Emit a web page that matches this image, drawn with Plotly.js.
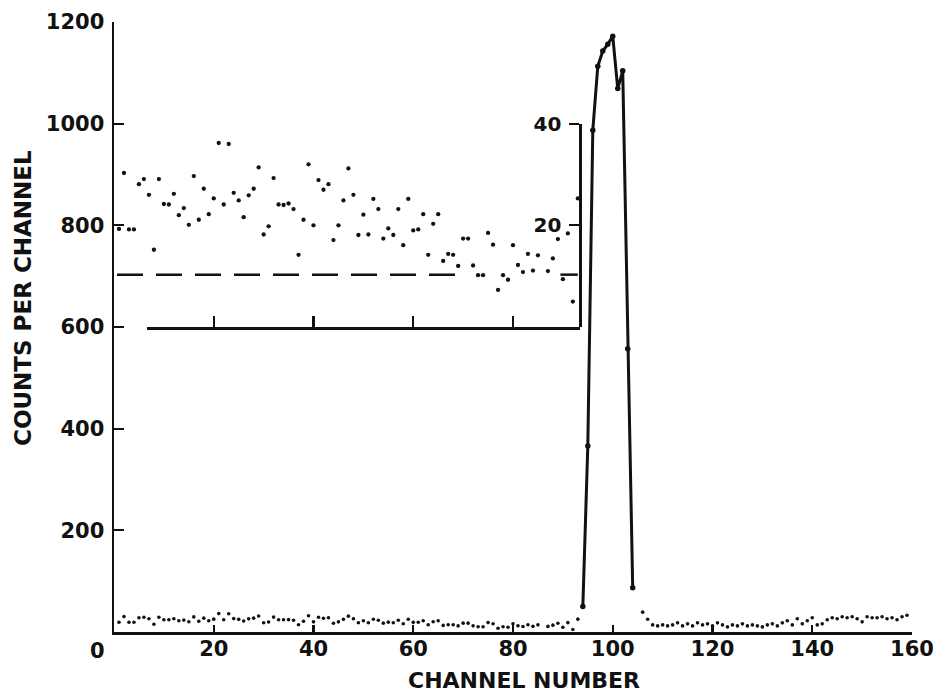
<!DOCTYPE html>
<html>
<head>
<meta charset="utf-8">
<script src="https://cdn.plot.ly/plotly-3.0.1.min.js"></script>
<style>
html,body{margin:0;padding:0;background:#ffffff;}
#chart{width:933px;height:694px;}
</style>
</head>
<body>
<div id="chart"></div>
<script>
// ---- Data ----
// Background region left of the peak (shown both at full scale and in the inset)
const bgChannelsLow = [
  1,2,3,4,5,6,7,8,9,10,
  11,12,13,14,15,16,17,18,19,20,
  21,22,23,24,25,26,27,28,29,30,
  31,32,33,34,35,36,37,38,39,40,
  41,42,43,44,45,46,47,48,49,50,
  51,52,53,54,55,56,57,58,59,60,
  61,62,63,64,65,66,67,68,69,70,
  71,72,73,74,75,76,77,78,79,80,
  81,82,83,84,85,87,88,89,90,91,
  92,93
];
const bgCountsLow = [
  19.3,30.3,19.2,19.2,28.1,29.1,26.0,15.2,29.1,24.2,
  24.1,26.2,22.0,23.4,20.1,29.7,21.1,27.2,22.2,25.3,
  36.2,24.1,36.0,26.4,24.9,21.6,25.9,27.2,31.4,18.2,
  19.8,29.3,24.1,24.0,24.3,23.2,14.2,21.1,32.0,20.0,
  28.9,27.0,28.1,17.1,20.0,24.9,31.2,26.0,18.1,22.1,
  18.2,25.2,23.2,17.4,19.4,18.1,23.2,16.1,25.2,19.0,
  19.2,22.2,14.2,20.3,22.2,13.0,14.4,14.2,12.0,17.4,
  17.4,12.1,10.2,10.2,18.5,16.2,7.3,10.2,9.3,16.1,
  12.2,10.8,14.4,11.1,14.1,11.0,13.5,17.3,9.4,18.4,
  5.0,25.3
];
// Peak
const peakChannels = [94,95,96,97,98,99,100,101,102,103,104];
const peakCounts   = [50,366,987,1113,1143,1156,1172,1069,1104,557,87];
// Background right of the peak
const bgChannelsHigh = [
  106,107,108,109,110,111,112,113,114,115,
  116,117,118,119,120,121,122,123,124,125,
  126,127,128,129,130,131,132,133,134,135,
  136,137,138,139,140,141,142,143,144,145,
  146,147,148,149,150,151,152,153,154,155,
  156,157,158,159
];
const bgCountsHigh = [
  39,25,14,12,14,12,14,18,12,16,
  12,18,14,16,12,18,14,10,14,12,
  16,12,14,12,10,14,16,12,18,22,
  14,26,16,22,28,14,16,24,28,26,
  30,28,30,26,20,30,28,28,30,26,
  28,24,30,33
];
// Dashed background level drawn in the inset
const insetBackgroundLevel = 10.3;
const dashedChannels = [0.6, 69.0, null, 89.5, 93.0];

// Ticks / ranges
const xTickVals = [20,40,60,80,100,120,140,160];
const yTickVals = [200,400,600,800,1000,1200];
const insetYTickVals = [20,40];
const insetXTickVals = [20,40,60,80];
const mainXRange = [0,160];
const mainYRange = [0,1200];
const insetCountRange = [0,40];
const insetMainSpan = [600,1000];
const insetChannelRange = [6.6,93.5];

// ---- Styling ----
const FONT = 'DejaVu Sans, Verdana, sans-serif';
const INK = '#111111';

const dashedY = dashedChannels.map(c => c === null ? null : insetBackgroundLevel);

const traces = [
  { // background (full scale), left
    x: bgChannelsLow, y: bgCountsLow, xaxis: 'x', yaxis: 'y',
    type: 'scatter', mode: 'markers', cliponaxis: false,
    marker: {size: 3.6, color: INK}, hoverinfo: 'x+y', showlegend: false
  },
  { // background (full scale), right
    x: bgChannelsHigh, y: bgCountsHigh, xaxis: 'x', yaxis: 'y',
    type: 'scatter', mode: 'markers', cliponaxis: false,
    marker: {size: 3.6, color: INK}, hoverinfo: 'x+y', showlegend: false
  },
  { // peak
    x: peakChannels, y: peakCounts, xaxis: 'x', yaxis: 'y',
    type: 'scatter', mode: 'lines+markers', cliponaxis: false,
    line: {color: INK, width: 3},
    marker: {size: 5.5, color: INK}, hoverinfo: 'x+y', showlegend: false
  },
  { // inset: expanded background
    x: bgChannelsLow, y: bgCountsLow, xaxis: 'x', yaxis: 'y2',
    type: 'scatter', mode: 'markers', cliponaxis: false,
    marker: {size: 4.3, color: INK}, hoverinfo: 'x+y', showlegend: false
  },
  { // inset: dashed background level
    x: dashedChannels, y: dashedY, xaxis: 'x', yaxis: 'y2',
    type: 'scatter', mode: 'lines', connectgaps: false,
    line: {color: INK, width: 2.5, dash: '26px,13px'},
    hoverinfo: 'skip', showlegend: false
  },
  { // inset frame axis holder (no marks)
    x: [], y: [], xaxis: 'x2', yaxis: 'y2',
    type: 'scatter', mode: 'markers', hoverinfo: 'skip', showlegend: false
  }
];

const tickFont = {family: FONT, size: 21, color: INK, weight: 'bold'};

const layout = {
  width: 933, height: 694, autosize: false,
  margin: {l: 114, r: 21, t: 22, b: 62, pad: 0},
  paper_bgcolor: '#ffffff', plot_bgcolor: 'rgba(0,0,0,0)',
  font: {family: FONT, color: INK},
  showlegend: false,
  xaxis: {
    range: mainXRange, domain: [0,1], anchor: 'y',
    showline: true, linecolor: INK, linewidth: 2.5,
    showgrid: false, zeroline: false,
    ticks: 'inside', ticklen: 7, tickwidth: 2.2, tickcolor: INK,
    tickmode: 'array', tickvals: xTickVals,
    tickfont: tickFont, ticklabelstandoff: -4, ticklabeloverflow: 'allow'
  },
  yaxis: {
    range: mainYRange, domain: [0,1], anchor: 'x',
    showline: true, linecolor: INK, linewidth: 2.5,
    showgrid: false, zeroline: false,
    ticks: 'inside', ticklen: 10, tickwidth: 2.2, tickcolor: INK,
    tickmode: 'array', tickvals: yTickVals,
    tickfont: tickFont, ticklabelstandoff: 3
  },
  yaxis2: {
    range: insetCountRange,
    domain: [insetMainSpan[0]/mainYRange[1], insetMainSpan[1]/mainYRange[1]],
    anchor: 'free', position: insetChannelRange[1]/mainXRange[1], side: 'left',
    showline: true, linecolor: INK, linewidth: 2.5,
    showgrid: false, zeroline: false,
    ticks: 'outside', ticklen: 10, tickwidth: 2.2, tickcolor: INK,
    tickmode: 'array', tickvals: insetYTickVals,
    tickfont: {family: FONT, size: 20, color: INK, weight: 'bold'},
    ticklabelstandoff: 4
  },
  xaxis2: {
    range: insetChannelRange,
    domain: [insetChannelRange[0]/mainXRange[1], insetChannelRange[1]/mainXRange[1]],
    anchor: 'y2',
    showline: true, linecolor: INK, linewidth: 2.5,
    showgrid: false, zeroline: false,
    ticks: 'inside', ticklen: 11, tickwidth: 2.2, tickcolor: INK,
    tickmode: 'array', tickvals: insetXTickVals,
    showticklabels: false
  },
  annotations: [
    {text: '0', xref: 'paper', yref: 'paper', x: -3.4/160, y: 0, yanchor: 'middle', xanchor: 'center',
     yshift: -19, showarrow: false, font: tickFont},
    {text: 'CHANNEL NUMBER', xref: 'paper', yref: 'paper',
     x: (524-114)/798, y: (632-680)/610, xanchor: 'center', yanchor: 'middle',
     showarrow: false, font: {family: FONT, size: 22, color: INK, weight: 'bold'}},
    {text: 'COUNTS PER CHANNEL', xref: 'paper', yref: 'paper',
     x: (23-114)/798, y: (632-298)/610, xanchor: 'center', yanchor: 'middle',
     textangle: -90, showarrow: false,
     font: {family: FONT, size: 23, color: INK, weight: 'bold'}}
  ]
};

Plotly.newPlot('chart', traces, layout, {staticPlot: true, displayModeBar: false});
</script>
</body>
</html>
